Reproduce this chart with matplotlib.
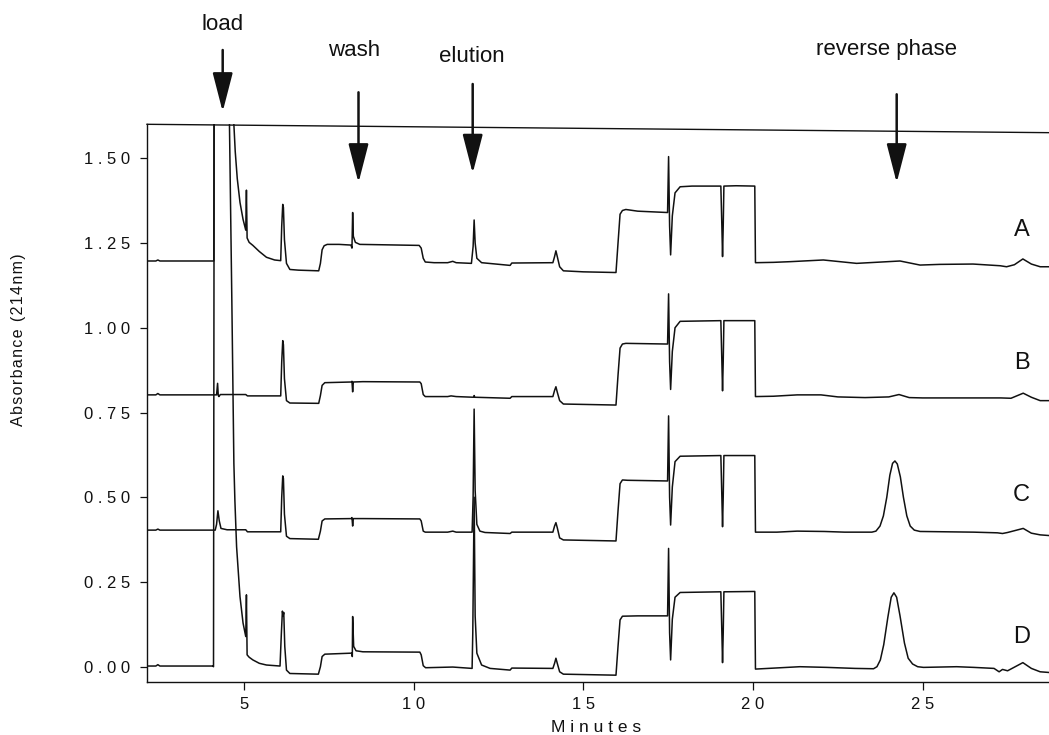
import matplotlib
matplotlib.use("Agg")
import matplotlib.pyplot as plt

plt.rcParams['font.family'] = ['Liberation Sans', 'DejaVu Sans']

# ---------------- data ----------------
trace_labels = ["A", "B", "C", "D"]

a_t = [2.14, 2.40, 2.46, 2.52, 4.08, 4.11, 4.12, 4.68, 4.70, 4.74, 4.80, 4.88, 4.97, 5.05, 5.07, 5.09,
       5.15, 5.26, 5.45, 5.66, 5.90, 6.08, 6.11, 6.14, 6.16, 6.19, 6.25, 6.35, 6.60, 7.20, 7.25, 7.30,
       7.36, 7.45, 7.80, 8.15, 8.18, 8.20, 8.22, 8.28, 8.41, 9.00, 10.16, 10.22, 10.28, 10.34, 10.60,
       11.00, 11.15, 11.25, 11.70, 11.75, 11.78, 11.81, 11.86, 12.00, 12.84, 12.89, 14.10, 14.15, 14.19,
       14.23, 14.30, 14.41, 15.00, 15.96, 16.02, 16.08, 16.15, 16.25, 16.60, 17.48, 17.51, 17.54, 17.57,
       17.62, 17.70, 17.85, 18.20, 19.05, 19.08, 19.10, 19.12, 19.14, 19.50, 20.05, 20.07, 20.60, 21.09,
       22.07, 23.05, 24.33, 24.92, 25.50, 26.48, 27.28, 27.47, 27.70, 27.95, 28.20, 28.46, 28.72]
a_y = [1.197, 1.197, 1.200, 1.197, 1.197, 1.197, 2.500, 2.500, 1.600, 1.520, 1.440, 1.370, 1.320, 1.288, 1.406, 1.265,
       1.252, 1.243, 1.225, 1.208, 1.200, 1.198, 1.300, 1.364, 1.355, 1.260, 1.190, 1.172, 1.170, 1.168, 1.190, 1.230,
       1.242, 1.246, 1.246, 1.244, 1.235, 1.340, 1.270, 1.252, 1.246, 1.245, 1.243, 1.235, 1.205, 1.194, 1.192,
       1.192, 1.196, 1.192, 1.190, 1.240, 1.318, 1.250, 1.205, 1.192, 1.184, 1.191, 1.192, 1.210, 1.227,
       1.210, 1.180, 1.168, 1.165, 1.163, 1.250, 1.335, 1.346, 1.349, 1.344, 1.340, 1.505, 1.300, 1.215,
       1.330, 1.398, 1.416, 1.418, 1.418, 1.300, 1.210, 1.300, 1.418, 1.419, 1.418, 1.192, 1.193, 1.195,
       1.200, 1.190, 1.197, 1.185, 1.187, 1.188, 1.183, 1.180, 1.186, 1.203, 1.188, 1.180, 1.180]

b_t = [2.14, 2.40, 2.46, 2.52, 4.19, 4.22, 4.24, 4.26, 4.30, 5.05, 5.10, 6.08, 6.11, 6.14, 6.16, 6.19,
       6.25, 6.35, 7.20, 7.25, 7.30, 7.38, 8.16, 8.18, 8.20, 8.22, 8.50, 10.18, 10.22, 10.28, 10.34, 11.00,
       11.10, 11.25, 11.76, 11.78, 11.80, 12.84, 12.89, 14.10, 14.15, 14.19, 14.23, 14.30, 14.41, 15.96,
       16.02, 16.08, 16.15, 16.25, 17.48, 17.51, 17.54, 17.57, 17.62, 17.70, 17.85, 19.05, 19.08, 19.10,
       19.12, 19.14, 20.05, 20.07, 20.60, 21.30, 22.00, 22.50, 23.30, 24.00, 24.30, 24.60, 25.00, 26.50,
       27.30, 27.60, 27.96, 28.20, 28.46, 28.72]
b_y = [0.802, 0.802, 0.806, 0.802, 0.802, 0.836, 0.800, 0.797, 0.803, 0.803, 0.799, 0.799, 0.900, 0.962, 0.950, 0.850,
       0.785, 0.778, 0.777, 0.800, 0.830, 0.838, 0.840, 0.842, 0.811, 0.840, 0.841, 0.840, 0.835, 0.803, 0.797, 0.797,
       0.799, 0.797, 0.795, 0.800, 0.795, 0.792, 0.797, 0.797, 0.815, 0.826, 0.810, 0.785, 0.775, 0.772,
       0.860, 0.940, 0.952, 0.954, 0.952, 1.100, 0.900, 0.818, 0.930, 1.000, 1.019, 1.021, 0.900, 0.814,
       0.900, 1.021, 1.021, 0.797, 0.798, 0.802, 0.802, 0.796, 0.794, 0.796, 0.803, 0.794, 0.793, 0.793,
       0.793, 0.792, 0.807, 0.795, 0.785, 0.785]

c_t = [2.14, 2.40, 2.46, 2.52, 4.15, 4.19, 4.23, 4.27, 4.32, 4.50, 5.05, 5.10, 6.08, 6.11, 6.14, 6.16,
       6.19, 6.25, 6.35, 7.19, 7.25, 7.30, 7.38, 8.16, 8.18, 8.20, 8.22, 8.50, 10.18, 10.22, 10.28, 10.34,
       11.00, 11.15, 11.25, 11.72, 11.75, 11.78, 11.81, 11.86, 11.95, 12.10, 12.84, 12.89, 14.10, 14.15,
       14.19, 14.23, 14.30, 14.41, 15.96, 16.02, 16.08, 16.15, 16.30, 17.48, 17.51, 17.54, 17.57, 17.62,
       17.70, 17.85, 19.05, 19.08, 19.10, 19.12, 19.14, 20.05, 20.07, 20.70, 21.30, 22.10, 22.70, 23.50,
       23.62, 23.74, 23.84, 23.94, 24.03, 24.11, 24.18, 24.25, 24.34, 24.43, 24.53, 24.63, 24.75, 24.92,
       26.50, 27.20, 27.35, 27.50, 27.96, 28.20, 28.46, 28.72]
c_y = [0.403, 0.403, 0.406, 0.403, 0.403, 0.420, 0.460, 0.430, 0.408, 0.404, 0.404, 0.398, 0.398, 0.500, 0.563, 0.555,
       0.450, 0.385, 0.378, 0.376, 0.400, 0.430, 0.436, 0.437, 0.440, 0.415, 0.437, 0.437, 0.436, 0.430, 0.400, 0.397,
       0.397, 0.400, 0.397, 0.397, 0.500, 0.760, 0.520, 0.420, 0.400, 0.396, 0.393, 0.397, 0.397, 0.415,
       0.425, 0.410, 0.380, 0.374, 0.371, 0.460, 0.540, 0.551, 0.550, 0.548, 0.740, 0.500, 0.418, 0.530,
       0.605, 0.621, 0.623, 0.500, 0.413, 0.500, 0.623, 0.623, 0.397, 0.397, 0.400, 0.399, 0.397, 0.397,
       0.400, 0.415, 0.445, 0.500, 0.565, 0.600, 0.607, 0.598, 0.560, 0.500, 0.445, 0.415, 0.403, 0.399,
       0.397, 0.395, 0.393, 0.396, 0.408, 0.394, 0.389, 0.387]

d_t = [2.14, 2.40, 2.46, 2.52, 4.08, 4.10, 4.13, 4.55, 4.57, 4.64, 4.70, 4.73, 4.78, 4.88, 4.97, 5.05,
       5.07, 5.09, 5.15, 5.26, 5.45, 5.66, 6.06, 6.10, 6.13, 6.15, 6.17, 6.20, 6.25, 6.35, 7.19, 7.25,
       7.30, 7.38, 8.17, 8.19, 8.20, 8.23, 8.30, 8.50, 10.18, 10.22, 10.28, 10.35, 11.15, 11.72, 11.74,
       11.78, 11.81, 11.86, 12.00, 12.25, 12.84, 12.89, 14.10, 14.15, 14.19, 14.23, 14.30, 14.41, 15.96,
       16.02, 16.08, 16.15, 16.60, 17.48, 17.51, 17.54, 17.57, 17.62, 17.70, 17.85, 19.05, 19.08, 19.10,
       19.12, 19.14, 20.05, 20.07, 21.38, 22.17, 23.00, 23.55, 23.65, 23.75, 23.85, 23.97, 24.07, 24.15,
       24.23, 24.33, 24.46, 24.57, 24.70, 24.85, 25.02, 26.00, 26.50, 27.10, 27.25, 27.35, 27.50, 27.95,
       28.20, 28.46, 28.72]
d_y = [0.002, 0.002, 0.006, 0.002, 0.002, 0.000, 2.500, 2.500, 1.600, 1.080, 0.600, 0.490, 0.354, 0.207, 0.129, 0.089,
       0.212, 0.035, 0.028, 0.020, 0.010, 0.005, 0.002, 0.100, 0.164, 0.150, 0.160, 0.060, -0.010, -0.020, -0.022, 0.000,
       0.030, 0.037, 0.040, 0.030, 0.148, 0.060, 0.047, 0.044, 0.043, 0.035, 0.003, -0.003, -0.001, -0.005, 0.100,
       0.500, 0.150, 0.040, 0.005, -0.005, -0.010, -0.004, -0.005, 0.010, 0.025, 0.010, -0.015, -0.022, -0.025,
       0.060, 0.138, 0.149, 0.150, 0.150, 0.349, 0.100, 0.020, 0.140, 0.205, 0.219, 0.221, 0.100, 0.012,
       0.100, 0.221, 0.222, -0.007, 0.000, -0.002, -0.005, -0.006, 0.000, 0.020, 0.065, 0.145, 0.205, 0.218,
       0.205, 0.150, 0.070, 0.025, 0.008, 0.000, -0.002, 0.000, -0.002, -0.005, -0.015, -0.008, -0.012, 0.012,
       -0.005, -0.015, -0.017]

y_tick_values = [0.00, 0.25, 0.50, 0.75, 1.00, 1.25, 1.50]
y_tick_labels = ["0.00", "0.25", "0.50", "0.75", "1.00", "1.25", "1.50"]
x_tick_values = [5, 10, 15, 20, 25]
x_tick_labels = ["5", "10", "15", "20", "25"]

step_labels = ["load", "wash", "elution", "reverse phase"]

# ---------------- figure ----------------
W, H = 1049, 735
fig = plt.figure(figsize=(W / 100, H / 100), dpi=100)
ax = fig.add_axes([147 / W, 1 - 682.3 / H, 1 - 147 / W, (682.3 - 124.3) / H])
ax.set_xlim(2.14, 28.72)
ax.set_ylim(-0.046, 1.6003)

ink = "#111111"
for t, y in [(a_t, a_y), (b_t, b_y), (c_t, c_y), (d_t, d_y)]:
    ax.plot(t, y, color=ink, lw=1.1, solid_joinstyle="round")

for side in ("top", "right"):
    ax.spines[side].set_visible(False)
for side in ("left", "bottom"):
    ax.spines[side].set_linewidth(1.0)
    ax.spines[side].set_color(ink)
# slanted top frame line of the original
ax.plot([0, 1], [1, 0.985], transform=ax.transAxes, color=ink, lw=1.0, clip_on=False)


def spaced(s, sep=" "):
    return sep.join(s)


ax.set_yticks(y_tick_values)
ax.set_yticklabels([spaced(s) for s in y_tick_labels])
ax.set_xticks(x_tick_values)
ax.set_xticklabels([spaced(s) for s in x_tick_labels])
ax.tick_params(axis="both", direction="out", length=5.4, width=0.9, color=ink,
               labelsize=12, labelcolor=ink)
ax.tick_params(axis="y", pad=6.5)
ax.tick_params(axis="x", pad=5.0)

fig.text(596 / W, 1 - 727 / H, spaced("Minutes"), ha="center", va="center",
         fontsize=12.5, color=ink)
fig.text(19 / W, 1 - 340 / H, spaced("Absorbance (214nm)", "\u200a"), rotation=90,
         ha="center", va="center", fontsize=11.5, color=ink)

# trace letters
for lab, ypx in zip(trace_labels, [230, 363, 495, 637]):
    fig.text(1021.7 / W, 1 - ypx / H, lab, ha="center", va="center", fontsize=17, color=ink)

# step annotations with arrows (pixel geometry)
text_pos = [(222.7, 25), (354.5, 50), (471.6, 56), (886.3, 50)]
arrow_geo = [(222.7, 50, 111.7), (358.5, 92.3, 182.7), (472.7, 84, 173.3), (896.7, 94.3, 182.7)]
for lab, (tx, ty), (axp, y0, y1) in zip(step_labels, text_pos, arrow_geo):
    fig.text(tx / W, 1 - ty / H, lab, ha="center", va="center", fontsize=16, color=ink)
    ax.annotate("", xy=(axp, H - y1), xytext=(axp, H - y0), xycoords="figure pixels",
                textcoords="figure pixels",
                arrowprops=dict(arrowstyle="-|>,head_length=2.4,head_width=0.62",
                                mutation_scale=10, lw=1.8, color=ink,
                                shrinkA=0, shrinkB=0),
                annotation_clip=False)

fig.savefig("out.png", dpi=100)
